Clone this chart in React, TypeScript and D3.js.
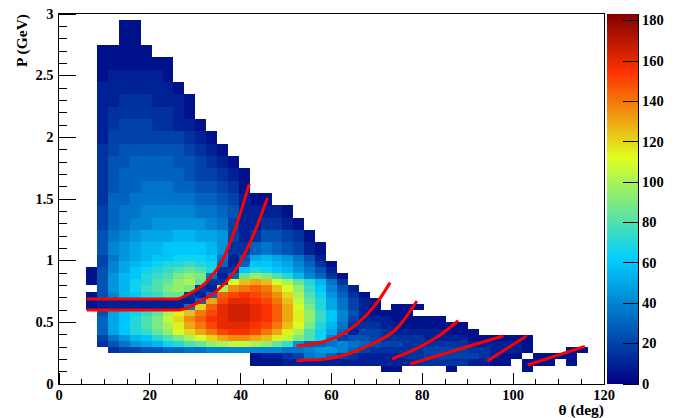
import React from "react";
import * as d3 from "d3";

// ---- histogram binning (coarse re-binning of the picture) ----
const thetaLow = 6.0; // low edge of first theta column (deg)
const thetaBinWidth = 2.4;
const upperPTop = 2.95; // upper block: 0.1 GeV rows from 2.95 down to 1.05
const upperPBin = 0.1;
const lowerPTop = 1.05; // lower block: 0.05 GeV rows from 1.05 down to 0.10
const lowerPBin = 0.05;
const countPerLevel = 5; // one base-36 digit = 5 counts
const zMax = 183.3;

// counts per cell, base-36 digit x 5, "." = empty; one string per P row (top to bottom)
const upperRows = [
  "...11",
  "...11",
  ".11111",
  ".1111111",
  ".1222221",
  ".22222221",
  ".223332221",
  ".233333321",
  ".2344433221",
  ".24444444321",
  ".345555554321",
  ".3556666554321",
  ".35666666544321",
  ".35667776655431",
  ".3667777776654211",
  ".467788888776522221",
  ".4678899999874223321",
  ".5789aaabbaa942355431",
  ".589abbccccb9336765421",
];

const lowerRows = [
  ".479abccdddc725aba9752",
  ".48abcdeefed626ccba8631",
  "158acdefghge33cedcb9752",
  "159bcefgiji726hjigeb8631",
  "159bdeghjkh33mpqpmkheb73",
  ".59bdfgiji32krstspmjfc852",
  "158bcefhh326tuvutrokgd9631",
  "12222222226quwwvusplhea7421",
  "1222222227otwxxwvtqmiea7421.111",
  ".5acdfhknpsuwxxwvtqnjfc8521111",
  ".6acegilortvwxxwvtqnjfc8422211111",
  ".6acegiknqsuwwwvuspmieb733322111111",
  ".6acefhjmoqsuvvusqnkgda6244322222111",
  ".479bcegikmoqrrqpnligd8455433332222111111",
  ".3579abdeghjkllkjhf9667876544333333222221",
  "..34455667788888887789986433333444433222" + "1...11",
  "...............12234786432222" + "33444443211.1111",
  "...............111222222222222" + "333332211.111.1",
  "..........................." + "11....1......1",
];

// red cut curves (theta deg, P GeV)
const curveU = [[6.1, 0.689], [25.9, 0.689], [28.1, 0.722], [32.5, 0.829], [36.2, 1.019], [39.1, 1.289], [41.9, 1.625]];
const curveW = [[6.1, 0.6], [26.2, 0.6], [30.3, 0.654], [35.4, 0.776], [39.1, 0.938], [42.8, 1.208], [45.9, 1.511]];
const curveA = [[52.3, 0.311], [58.2, 0.343], [63.3, 0.424], [67.7, 0.559], [70.7, 0.695], [72.9, 0.822]];
const curveB = [[52.3, 0.189], [58.2, 0.2], [64.1, 0.249], [69.2, 0.33], [74.4, 0.451], [78.8, 0.673]];
const curveC = [[73.3, 0.203], [78.8, 0.289], [83.9, 0.397], [87.9, 0.513]];
const curveD = [[77.3, 0.162], [83.9, 0.235], [89.8, 0.302], [97.8, 0.389]];
const curveE = [[94.3, 0.186], [103.0, 0.392]];
const curveF = [[103.2, 0.154], [115.8, 0.305]];
const curves = [curveU, curveW, curveA, curveB, curveC, curveD, curveE, curveF];

const xTickValues = [0, 20, 40, 60, 80, 100, 120];
const yTickValues = [0, 0.5, 1, 1.5, 2, 2.5, 3];
const yTickLabels = ["0", "0.5", "1", "1.5", "2", "2.5", "3"];
const zTickValues = [0, 20, 40, 60, 80, 100, 120, 140, 160, 180];

const paletteStops = [0, 0.34, 0.61, 0.84, 1];
const paletteColors = ["#000082", "#00cfff", "#deff1f", "#ff3300", "#820000"];

const W = 683;
const H = 418;
const L = 59, R = 604, T = 14, B = 384;
const CB0 = 607, CB1 = 638.5;
const FONT = '"Liberation Serif", "Times New Roman", serif';
const FS = 14.5;
const FT = 15.5;

type Cell = { t0: number; t1: number; p0: number; p1: number; v: number };

function buildCells(rows: string[], pTop: number, pBin: number): Cell[] {
  const out: Cell[] = [];
  rows.forEach((row, r) => {
    row.split("").forEach((ch, i) => {
      if (ch === ".") return;
      const t0 = thetaLow + i * thetaBinWidth;
      out.push({
        t0,
        t1: Math.min(120, t0 + thetaBinWidth),
        p1: pTop - r * pBin,
        p0: pTop - (r + 1) * pBin,
        v: parseInt(ch, 36) * countPerLevel,
      });
    });
  });
  return out;
}

export default function App() {
  const x = d3.scaleLinear().domain([0, 120]).range([L, R]);
  const y = d3.scaleLinear().domain([0, 3]).range([B, T]);
  const z = d3.scaleLinear().domain([0, zMax]).range([B, T]);
  const color = d3
    .scaleLinear<string>()
    .domain(paletteStops.map((s) => s * zMax))
    .range(paletteColors)
    .interpolate(d3.interpolateRgb)
    .clamp(true);

  const cells = [
    ...buildCells(upperRows, upperPTop, upperPBin),
    ...buildCells(lowerRows, lowerPTop, lowerPBin),
  ];

  const line = d3
    .line<number[]>()
    .x((d) => x(d[0]))
    .y((d) => y(d[1]))
    .curve(d3.curveMonotoneX);

  const xMinor = d3.range(0, 121, 5);
  const yMinor = d3.range(0, 31).map((k) => k / 10);

  return (
    <svg
      width={W}
      height={H}
      style={{ position: "absolute", left: 0, top: 0, display: "block", background: "#fff" }}
    >
      <defs>
        <linearGradient id="pal" x1="0" y1="1" x2="0" y2="0">
          {paletteStops.map((s, i) => (
            <stop key={i} offset={s} stopColor={paletteColors[i]} />
          ))}
        </linearGradient>
      </defs>
      <rect x={0} y={0} width={W} height={H} fill="#fff" />

      {/* histogram cells */}
      <g shapeRendering="crispEdges">
        {cells.map((c, i) => (
          <rect
            key={i}
            x={x(c.t0)}
            y={y(c.p1)}
            width={x(c.t1) - x(c.t0)}
            height={y(c.p0) - y(c.p1)}
            fill={color(c.v)}
          />
        ))}
      </g>

      {/* red curves */}
      {curves.map((c, i) => (
        <path key={i} d={line(c as number[][]) || ""} fill="none" stroke="#ff0000" strokeWidth={3} />
      ))}

      {/* frame */}
      <rect x={L - 0.5} y={T - 0.5} width={R - L + 1} height={B - T + 1} fill="none" stroke="#000" strokeWidth={1} shapeRendering="crispEdges" />

      {/* axis ticks */}
      <g stroke="#000" strokeWidth={1} shapeRendering="crispEdges">
        {xMinor.map((v) => {
          const major = v % 20 === 0;
          return <line key={v} x1={x(v)} x2={x(v)} y1={B} y2={B - (major ? 11 : 5.5)} />;
        })}
        {yMinor.map((v, k) => {
          const major = k % 5 === 0;
          return <line key={k} x1={L} x2={L + (major ? 16.5 : 8.3)} y1={y(v)} y2={y(v)} />;
        })}
      </g>

      <g fontFamily={FONT} fontWeight="bold" fontSize={FS} fill="#000">
        {xTickValues.map((v) => (
          <text key={v} x={x(v)} y={400} textAnchor="middle">
            {v}
          </text>
        ))}
        {yTickValues.map((v, i) => (
          <text key={v} x={53.5} y={y(v) + 4.8} textAnchor="end">
            {yTickLabels[i]}
          </text>
        ))}
        <text x={R} y={415} textAnchor="end" fontSize={FT}>θ (deg)</text>
        <text transform={`translate(26.5,${T}) rotate(-90)`} textAnchor="end" fontSize={FT}>
          P (GeV)
        </text>
        {zTickValues.map((v) => (
          <text key={v} x={642} y={z(v) + 4.8} textAnchor="start">
            {v}
          </text>
        ))}
      </g>

      {/* color bar */}
      <rect x={CB0} y={T} width={CB1 - CB0} height={B - T} fill="url(#pal)" />
      <g stroke="#000" strokeWidth={1} shapeRendering="crispEdges">
        <line x1={CB1} x2={CB1} y1={T} y2={B} />
        {zTickValues.map((v) => (
          <line key={v} x1={CB1 - 16} x2={CB1} y1={z(v)} y2={z(v)} />
        ))}
      </g>
    </svg>
  );
}
